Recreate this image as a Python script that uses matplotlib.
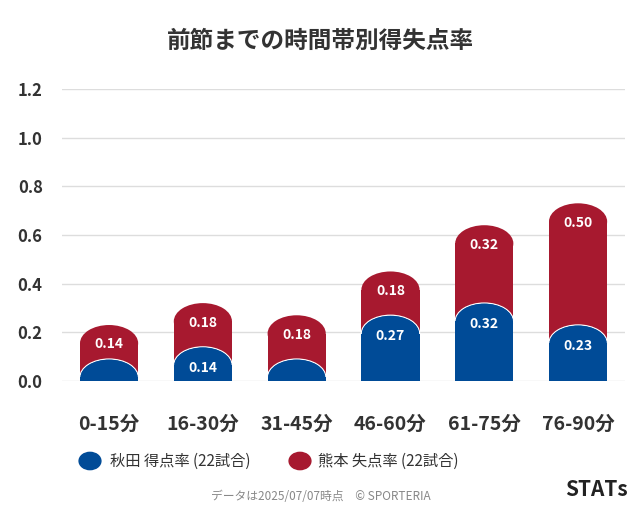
import matplotlib
matplotlib.use("Agg")
import matplotlib.pyplot as plt
from matplotlib.patches import Rectangle, Ellipse, Circle

plt.rcParams["font.family"] = "Noto Sans CJK JP"

categories = ["0-15分", "16-30分", "31-45分", "46-60分", "61-75分", "76-90分"]
akita_for = [0.09, 0.14, 0.09, 0.27, 0.32, 0.23]
kumamoto_against = [0.14, 0.18, 0.18, 0.18, 0.32, 0.50]
akita_labels = ["", "0.14", "", "0.27", "0.32", "0.23"]
kumamoto_labels = ["0.14", "0.18", "0.18", "0.18", "0.32", "0.50"]
yticks = [0.0, 0.2, 0.4, 0.6, 0.8, 1.0, 1.2]

BLUE = "#004b97"
RED = "#a7192f"

fig = plt.figure(figsize=(6.41, 5.08), dpi=100)
ax = fig.add_axes([0.097, 0.25, 0.878, 0.575])
ax.set_xlim(-0.5, 5.5)
ax.set_ylim(0, 1.2)
for t in yticks:
    ax.axhline(t, color="#dddddd", lw=1, zorder=0)
ax.set_yticks(yticks)
ax.set_yticklabels([f"{t:.1f}" for t in yticks], fontsize=12, fontweight="bold", color="#333333")
ax.set_xticks(range(len(categories)))
ax.set_xticklabels(categories, fontsize=14, fontweight="bold", color="#333333")
ax.tick_params(length=0)
ax.tick_params(axis="x", pad=24)
ax.tick_params(axis="y", pad=14)
for s in ax.spines.values():
    s.set_visible(False)

w = 0.62
cap = 0.075

def rbar(x, top, color):
    body = max(top - cap, 0)
    ax.add_patch(Rectangle((x - w / 2, 0), w, body, facecolor=color, edgecolor="none", zorder=2))
    ax.add_patch(Ellipse((x, body), w, 2 * cap, facecolor=color, edgecolor="none", zorder=2))

def rbar_outline(x, top, color):
    body = max(top - cap, 0)
    ax.add_patch(Ellipse((x, body), w, 2 * cap, facecolor=color, edgecolor="white", lw=1, zorder=3))
    ax.add_patch(Rectangle((x - w / 2, 0), w, body, facecolor=color, edgecolor="none", zorder=3.5))
    ax.add_patch(Ellipse((x, body), w - 0.01, 2 * cap - 0.004, facecolor=color, edgecolor="none", zorder=3.6))

for i in range(len(categories)):
    total = akita_for[i] + kumamoto_against[i]
    rbar(i, total, RED)
    rbar_outline(i, akita_for[i], BLUE)
    ax.text(i, total - 0.08, kumamoto_labels[i], ha="center", va="center", color="white",
            fontsize=10, fontweight="bold", zorder=5)
    if akita_labels[i]:
        ax.text(i, akita_for[i] - 0.087, akita_labels[i], ha="center", va="center", color="white",
                fontsize=10, fontweight="bold", zorder=5)

fig.text(0.5, 0.92, "前節までの時間帯別得失点率", ha="center", va="center",
         fontsize=17, fontweight="bold", color="#333333")

fig.patches.append(Circle((90 / 641, 1 - 461 / 508), 0.017, transform=fig.transFigure, color=BLUE))
fig.text(110 / 641, 1 - 461 / 508, "秋田 得点率 (22試合)", va="center", fontsize=11, color="#333333")
fig.patches.append(Circle((300 / 641, 1 - 461 / 508), 0.017, transform=fig.transFigure, color=RED))
fig.text(318 / 641, 1 - 461 / 508, "熊本 失点率 (22試合)", va="center", fontsize=11, color="#333333")

fig.text(0.5, 1 - 496 / 508, "データは2025/07/07時点　© SPORTERIA", ha="center", va="center",
         fontsize=8.5, color="#888888")
fig.text(628 / 641, 1 - 489 / 508, "STATs", ha="right", va="center", fontsize=15,
         fontweight="bold", color="#222222")

fig.savefig("out.png", dpi=100, facecolor="white")
